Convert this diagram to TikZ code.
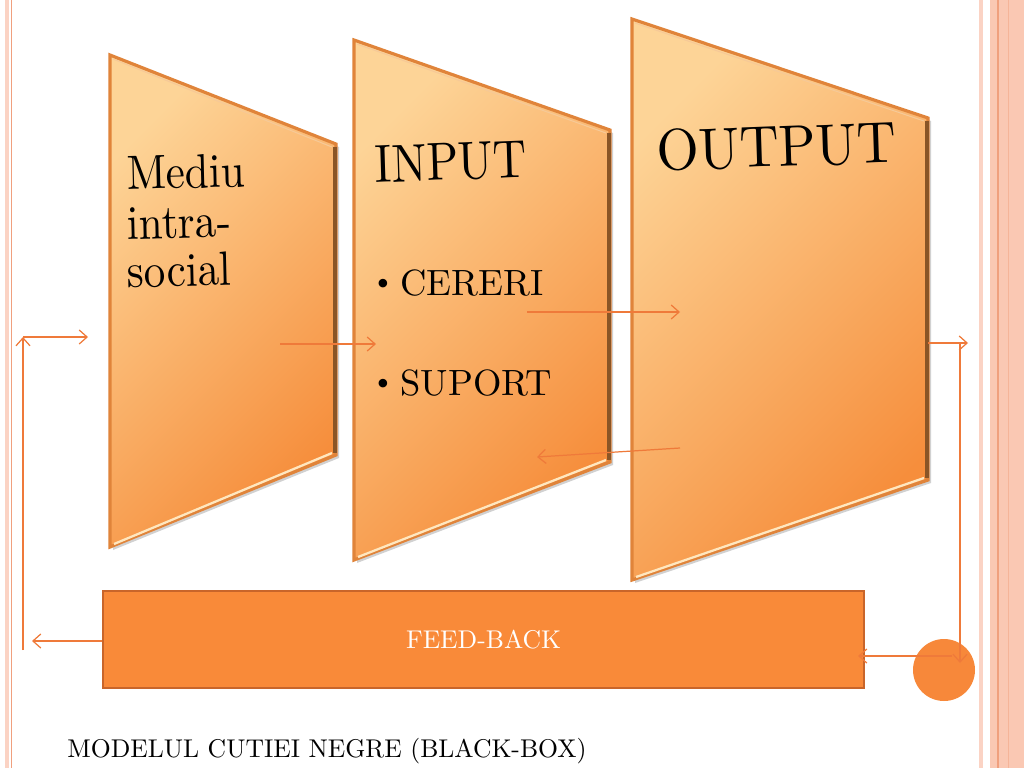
\documentclass[tikz,border=0pt]{standalone}
\usepackage{fontspec}
\setmainfont{lmroman10-regular.otf}
\usetikzlibrary{arrows.meta}
\definecolor{trapLight}{HTML}{FDD497}
\definecolor{trapDark}{HTML}{F68E3C}
\definecolor{trapEdge}{HTML}{E0843A}
\definecolor{trapShadow}{HTML}{8A5526}
\definecolor{trapHi}{HTML}{FFE7BF}
\definecolor{arrowCol}{HTML}{EF7A3A}
\definecolor{fbFill}{HTML}{F98A39}
\definecolor{fbEdge}{HTML}{C9652A}
\definecolor{circCol}{HTML}{F7883A}
\definecolor{bandCol}{HTML}{FAC8B3}
\definecolor{bandLine}{HTML}{F0A07E}
\definecolor{paleBand}{HTML}{FBD3C4}
\newcommand\trapshape[6]{%
  \fill[black, opacity=0.18] (#1+3,#3+3) -- (#2+3,#4+3) -- (#2+3,#5+3) -- (#1+3,#6+3) -- cycle;
  \shade[top color=trapLight, bottom color=trapDark, shading angle=45]
    (#1,#3) -- (#2,#4) -- (#2,#5) -- (#1,#6) -- cycle;
  \draw[trapEdge, line width=1.8pt, line join=miter] (#1,#3) -- (#2,#4) -- (#2,#5) -- (#1,#6) -- cycle;
  \draw[trapShadow, line width=2.6pt] (#2-1,#4+3) -- (#2-1,#5-2);
  \draw[trapHi, line width=1.3pt] (#1+4,#6-3) -- (#2-4,#5-2);
  \draw[trapHi!70!trapEdge, line width=0.6pt] (#1+3,#3+4) -- (#2-4,#4+3);
}
\newcommand\smallbul{\raisebox{2.6pt}{\fontsize{17}{17}\selectfont\textbullet}\hspace{0.16em}}
\tikzset{
  conn/.style={arrowCol, line width=0.7pt, -{Straight Barb[length=4.5pt,width=8pt]}},
  bigtxt/.style={anchor=base west, inner sep=0pt, transform shape}
}
\begin{document}
\begin{tikzpicture}[x=0.02cm, y=-0.02cm]
\useasboundingbox (0,0) rectangle (1024,768);
\fill[white] (0,0) rectangle (1024,768);
% page borders
\fill[paleBand] (5,0) rectangle (9,768);
\draw[bandLine, line width=0.5pt] (11,0) -- (11,768);
\fill[paleBand] (979,0) rectangle (983,768);
\fill[bandCol] (990,0) rectangle (1024,768);
\draw[bandLine, line width=0.6pt] (998,0) -- (998,768);
\draw[bandLine!50!bandCol, line width=0.5pt] (1008,0) -- (1008,768);

% trapezoids
\trapshape{110}{336}{55}{144}{455}{547}
\trapshape{354}{610}{40}{130}{462}{560}
\trapshape{632}{928}{19}{118}{480}{580}

% texts
\node[bigtxt, font=\fontsize{24.5}{28}\selectfont, yscale=1.12, rotate=1.5] (m1) at (127,190) {Mediu};
\node[bigtxt, font=\fontsize{24.5}{28}\selectfont, yscale=1.12, rotate=1.5] (m2) at (127,240) {intra-};
\node[bigtxt, font=\fontsize{24.5}{28}\selectfont, yscale=1.12, rotate=1.5] (m3) at (127,288) {social};
\node[bigtxt, font=\fontsize{26.5}{30}\selectfont, yscale=1.15, rotate=2] (in) at (375,183) {INPUT};
\node[bigtxt, font=\fontsize{20.8}{24}\selectfont] (cer) at (371,295) {\smallbul CERERI};
\node[bigtxt, font=\fontsize{20.8}{24}\selectfont] (sup) at (371,395) {\smallbul SUPORT};
\node[bigtxt, font=\fontsize{31}{34}\selectfont, yscale=1.07, rotate=2] (out) at (657,171) {OUTPUT};

% feedback box and circle
\node[draw=fbEdge, fill=fbFill, line width=0.9pt, minimum width=15.22cm, minimum height=1.94cm,
      inner sep=0pt, text=white, font=\fontsize{14.6}{17}\selectfont] (fb) at (483.5,639.5) {FEED-BACK};
\node[circle, fill=circCol, minimum size=1.24cm, inner sep=0pt] (circ) at (944,670) {};

% arrow end points
\coordinate (lb) at (23,650);
\coordinate (lt) at (23,337);
\coordinate (lr) at (88,337);
\coordinate (fl) at (32,641);
\coordinate (ms) at (280,344);
\coordinate (me) at (376,344);
\coordinate (cs) at (527,312);
\coordinate (ce) at (680,312);
\coordinate (ss) at (680,448);
\coordinate (se) at (537,457);
\coordinate (os) at (928,343);
\coordinate (oe) at (968,343);
\coordinate (vt) at (960,343);
\coordinate (vb) at (960,663);
\coordinate (cl) at (952,656);
\coordinate (fr) at (858,656);

\draw[conn] (lb) -- (lt);
\draw[conn] (lt) -- (lr);
\draw[conn] (fb.west |- fl) -- (fl);
\draw[conn] (ms) -- (me);
\draw[conn] (cs) -- (ce);
\draw[conn] (ss) -- (se);
\draw[conn] (os) -- (oe);
\draw[conn] (vt) -- (vb);
\draw[conn] (cl) -- (fr);

% caption
\node[anchor=base west, inner sep=0pt, font=\fontsize{14.6}{17}\selectfont] (cap) at (67,757) {MODELUL CUTIEI NEGRE (BLACK-BOX)};
\end{tikzpicture}
\end{document}
